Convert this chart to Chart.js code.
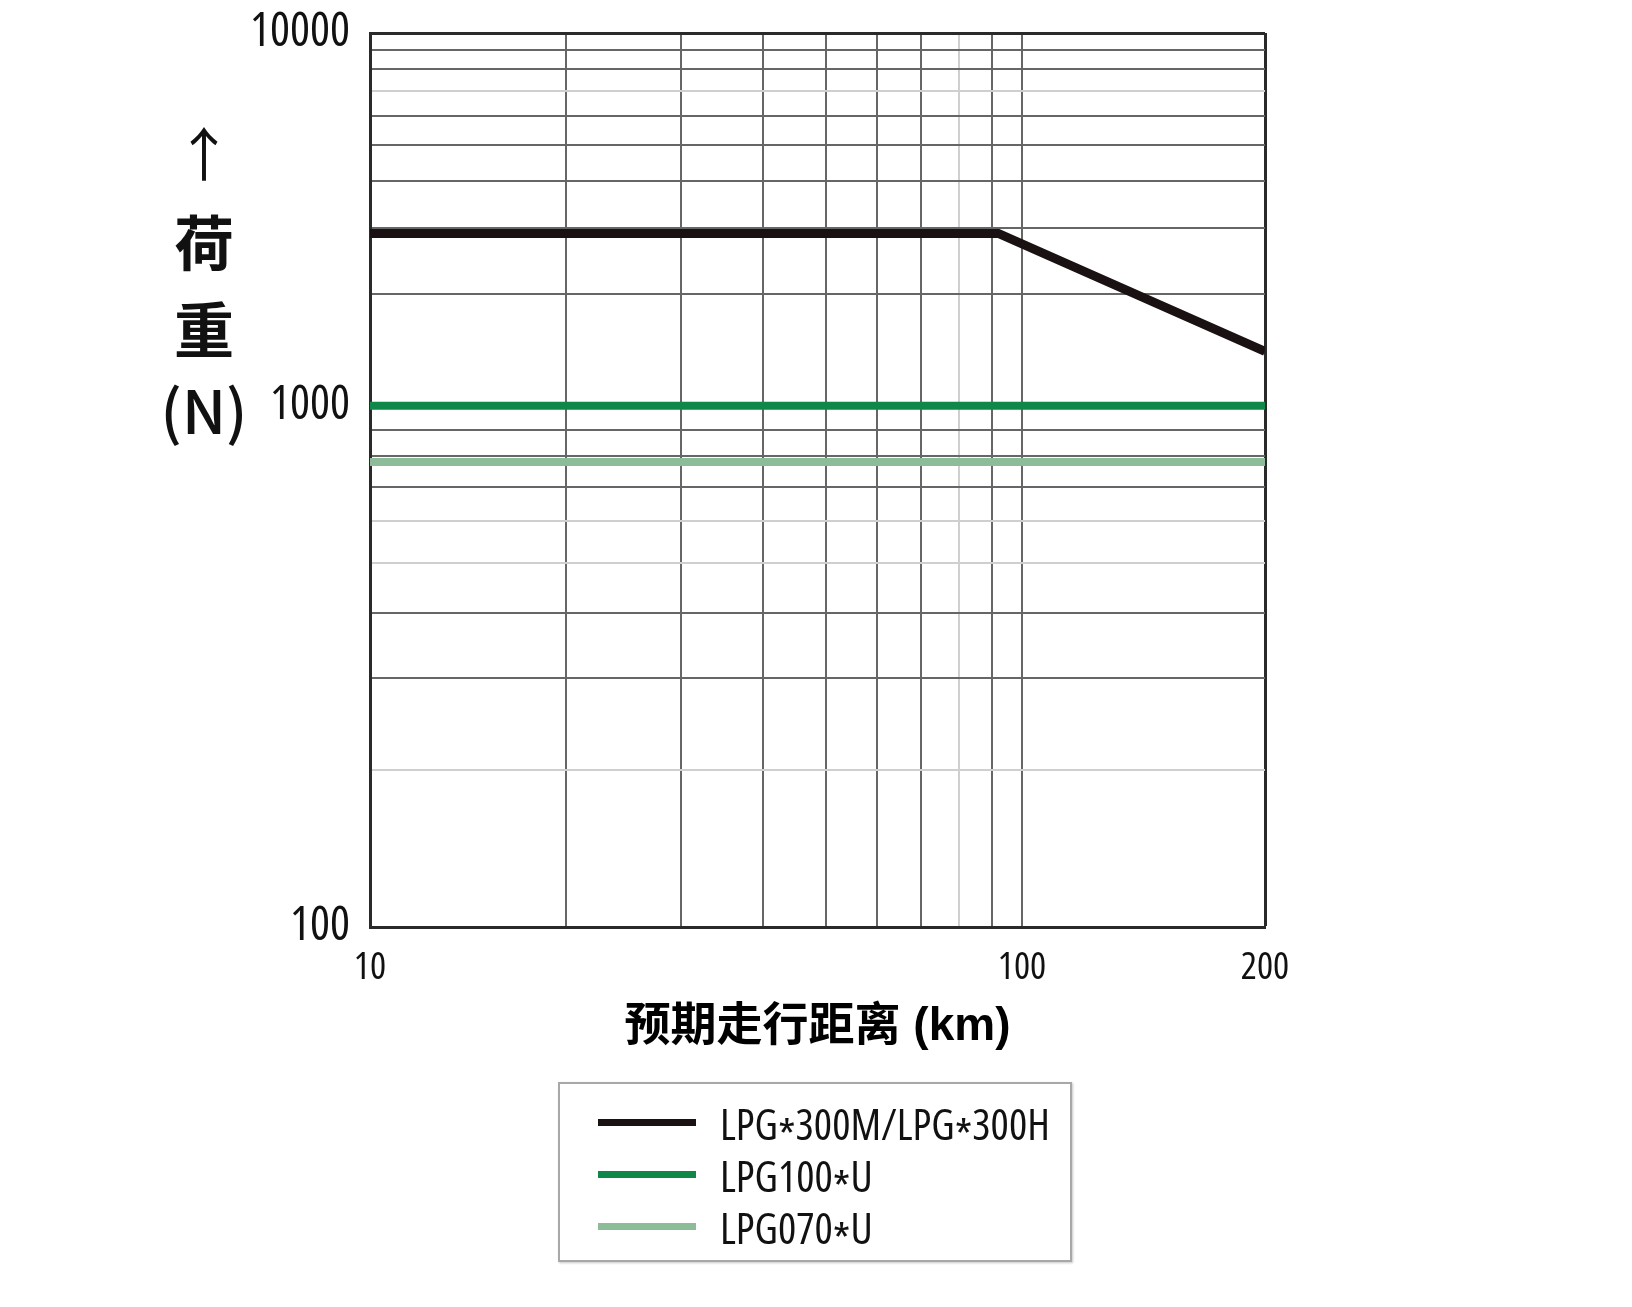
<!DOCTYPE html>
<html>
<head>
<meta charset="utf-8">
<script src="https://cdn.jsdelivr.net/npm/chart.js@4.4.0/dist/chart.umd.min.js"></script>
<style>
  html, body { margin: 0; padding: 0; background: #fff; }
  #wrap { position: relative; width: 1632px; height: 1307px; overflow: hidden; }
  #chart { position: absolute; left: 0; top: 0; }
  .ytitle {
    position: absolute; left: 154px; width: 100px; text-align: center;
    font-family: "Noto Sans CJK SC", sans-serif; color: #111; line-height: 1;
  }
  #legend {
    position: absolute; left: 558px; top: 1082px; width: 510px; height: 176px;
    border: 2px solid #a8a8a8; box-shadow: 1px 1px 2px #c8c8c8;
  }
  .row { position: absolute; left: 38px; height: 52px; display: flex; align-items: center; }
  .swatch { width: 98px; height: 7px; margin-right: 24px; flex: none; }
  .row span.txt {
    font-family: "Open Sans", sans-serif; font-stretch: 75%;
    font-size: 43px; color: #111; white-space: nowrap;
  }
  .star { position: relative; top: 0.3em; font-size: 1.05em; }
</style>
</head>
<body>
<div id="wrap">
  <canvas id="chart" width="1632" height="1307"></canvas>
  <div class="ytitle" style="top:122px;font-size:58px;">↑</div>
  <div class="ytitle" style="top:210px;font-size:60px;font-weight:bold;">荷</div>
  <div class="ytitle" style="top:297px;font-size:60px;font-weight:bold;">重</div>
  <div class="ytitle" style="top:378px;font-size:60px;font-weight:500;">(N)</div>
  <div id="legend"></div>
</div>
<script>
// data
const seriesNames = ['LPG*300M/LPG*300H', 'LPG100*U', 'LPG070*U'];
const lpg300Km = [10, 92, 200];
const lpg300Load = [2900, 2900, 1400];
const flatKm = [10, 200];
const lpg100Load = [1000, 1000];
const lpg070Load = [780, 780];
const xTickLabels = [10, 100, 200];
const yTickLabels = [100, 1000, 10000];

// the printed grid gives each decade its own length: [log10 value, share of axis]
const axisKnots = {
  x: [[1, 0], [2, 0.7285], [Math.log10(200), 1]],
  y: [[2, 0], [3, 0.583], [4, 1]]
};

class DecadeLogScale extends Chart.LogarithmicScale {
  getPixelForValue(value) {
    if (value === undefined || value === 0) value = this.min;
    if (value === null || isNaN(value)) return NaN;
    const k = axisKnots[this.id];
    const lv = Math.log10(value);
    let i = 0;
    while (i < k.length - 2 && lv > k[i + 1][0]) i++;
    const a = k[i], b = k[i + 1];
    return this.getPixelForDecimal(a[1] + (lv - a[0]) / (b[0] - a[0]) * (b[1] - a[1]));
  }
  getValueForPixel(pixel) {
    const k = axisKnots[this.id];
    const d = this.getDecimalForPixel(pixel);
    let i = 0;
    while (i < k.length - 2 && d > k[i + 1][1]) i++;
    const a = k[i], b = k[i + 1];
    return Math.pow(10, a[0] + (d - a[1]) / (b[1] - a[1]) * (b[0] - a[0]));
  }
}
DecadeLogScale.id = 'decadelog';
DecadeLogScale.defaults = Chart.LogarithmicScale.defaults;
Chart.register(DecadeLogScale);

const toPoints = (xs, ys) => xs.map((x, i) => ({ x: x, y: ys[i] }));

const frameColor = '#2a2a2a';
const lightY = [200, 500, 600, 7000];
const lightX = [80];
// chart.js adds 1.5x ticks (150, 1500); the printed grid has no line there
const isHalfStep = v => Math.abs(v / Math.pow(10, Math.floor(Math.log10(v))) - 1.5) < 1e-9;
function gridColor(v, edge, light) {
  if (v === edge) return frameColor;
  if (isHalfStep(v)) return 'rgba(0,0,0,0)';
  return light.includes(v) ? '#cfcfcf' : '#666';
}
// weight slot carries the stretch keyword so the canvas font string becomes "condensed NNpx ..."
const tickFamily = '"Open Sans", sans-serif';

var ctx = document.getElementById('chart').getContext('2d');
var chart = new Chart(ctx, {
  type: 'line',
  data: {
    datasets: [{
      label: seriesNames[0],
      data: toPoints(lpg300Km, lpg300Load),
      borderColor: '#1a1212',
      borderWidth: 9,
      pointRadius: 0,
      tension: 0
    }, {
      label: seriesNames[1],
      data: toPoints(flatKm, lpg100Load),
      borderColor: '#0f8748',
      borderWidth: 8,
      pointRadius: 0
    }, {
      label: seriesNames[2],
      data: toPoints(flatKm, lpg070Load),
      borderColor: '#8dbc98',
      borderWidth: 8,
      pointRadius: 0
    }]
  },
  options: {
    responsive: false,
    animation: false,
    layout: {
      padding: { left: 0, top: 33, right: 367, bottom: 1307 - 927 - 128 }
    },
    plugins: {
      legend: { display: false },
      tooltip: { enabled: false }
    },
    scales: {
      x: {
        type: 'decadelog',
        min: 10,
        max: 200,
        afterFit: function (scale) {
          scale.height = 128;
          scale.paddingLeft = 0;
          scale.paddingRight = 0;
        },
        grid: {
          drawTicks: false,
          color: function (c) { return gridColor(c.tick && c.tick.value, 200, lightX); },
          lineWidth: function (c) { return c.tick && c.tick.value === 200 ? 3 : 2; }
        },
        border: { color: frameColor, width: 3 },
        ticks: {
          autoSkip: false,
          maxRotation: 0,
          padding: 18,
          color: '#111',
          font: { family: tickFamily, weight: 'condensed', size: 38 },
          callback: function (value) {
            return xTickLabels.includes(value) ? String(value) : '';
          }
        },
        title: {
          display: true,
          text: '预期走行距离 (km)',
          color: '#000',
          padding: 0,
          font: { family: '"Liberation Sans", "Noto Sans CJK SC", sans-serif', size: 46, weight: 'bold' }
        }
      },
      y: {
        type: 'decadelog',
        min: 100,
        max: 10000,
        afterFit: function (scale) {
          scale.width = 370;
          scale.paddingTop = 0;
          scale.paddingBottom = 0;
        },
        grid: {
          drawTicks: false,
          color: function (c) { return gridColor(c.tick && c.tick.value, 10000, lightY); },
          lineWidth: function (c) { return c.tick && c.tick.value === 10000 ? 3 : 2; }
        },
        border: { color: frameColor, width: 3 },
        ticks: {
          autoSkip: false,
          padding: 20,
          color: '#111',
          font: { family: tickFamily, weight: 'condensed', size: 47 },
          callback: function (value) {
            return yTickLabels.includes(value) ? String(value) : '';
          }
        }
      }
    }
  }
});

// boxed legend below the axis title, one entry per row
var legendBox = document.getElementById('legend');
chart.data.datasets.forEach(function (ds, i) {
  var row = document.createElement('div');
  row.className = 'row';
  row.style.top = (12 + i * 52) + 'px';
  var sw = document.createElement('span');
  sw.className = 'swatch';
  sw.style.background = ds.borderColor;
  var txt = document.createElement('span');
  txt.className = 'txt';
  ds.label.split('*').forEach(function (part, j) {
    if (j > 0) {
      var star = document.createElement('span');
      star.className = 'star';
      star.textContent = '*';
      txt.appendChild(star);
    }
    txt.appendChild(document.createTextNode(part));
  });
  row.appendChild(sw);
  row.appendChild(txt);
  legendBox.appendChild(row);
});
</script>
</body>
</html>
